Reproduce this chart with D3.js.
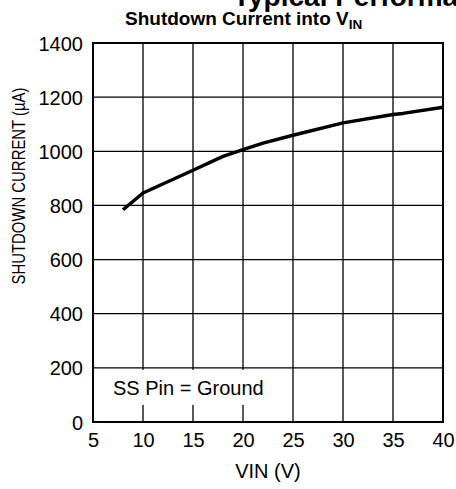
<!DOCTYPE html>
<html>
<head>
<meta charset="utf-8">
<script src="https://cdn.jsdelivr.net/npm/d3@7"></script>
<style>
  body { margin: 0; background: #fff; }
  svg { display: block; font-family: Arial, "Liberation Sans", sans-serif; }
</style>
</head>
<body>
<div id="chart"></div>
<script>
// data
var vin = [8, 10, 15, 18, 20, 22, 25, 30, 35, 36, 40];
var current = [784, 846, 930, 981, 1006, 1030, 1059, 1105, 1136, 1140, 1163];
var xTicks = [5, 10, 15, 20, 25, 30, 35, 40];
var yTicks = [0, 200, 400, 600, 800, 1000, 1200, 1400];

var svgWidth = 456;
var svgHeight = 489;

var margin = { top: 43, right: 13, bottom: 67, left: 93 };
var width = svgWidth - margin.left - margin.right;
var height = svgHeight - margin.top - margin.bottom;

var svg = d3.select("#chart")
  .append("svg")
  .attr("width", svgWidth)
  .attr("height", svgHeight);

// page heading, cut off at the top
svg.append("text")
  .attr("x", 233)
  .attr("y", 6)
  .attr("font-size", 28)
  .attr("font-weight", "bold")
  .text("Typical Performance Characteristics");

// chart title with subscript
var title = svg.append("text")
  .attr("x", 125)
  .attr("y", 25)
  .attr("font-size", 19)
  .attr("font-weight", "bold")
  .text("Shutdown Current into V");
title.append("tspan")
  .attr("dy", 4)
  .attr("font-size", 13.5)
  .text("IN");

var chartGroup = svg.append("g")
  .attr("transform", `translate(${margin.left}, ${margin.top})`);

var xScale = d3.scaleLinear().domain([5, 40]).range([0, width]);
var yScale = d3.scaleLinear().domain([0, 1400]).range([height, 0]);

// grid
chartGroup.append("g")
  .selectAll("line.vx")
  .data(xTicks.slice(1, -1))
  .enter()
  .append("line")
  .attr("x1", d => xScale(d))
  .attr("x2", d => xScale(d))
  .attr("y1", 0)
  .attr("y2", height)
  .attr("stroke", "#000")
  .attr("stroke-width", 1.3);

chartGroup.append("g")
  .selectAll("line.hy")
  .data(yTicks.slice(1, -1))
  .enter()
  .append("line")
  .attr("x1", 0)
  .attr("x2", width)
  .attr("y1", d => yScale(d))
  .attr("y2", d => yScale(d))
  .attr("stroke", "#000")
  .attr("stroke-width", 1.3);

// note box covers the grid
chartGroup.append("rect")
  .attr("x", 2)
  .attr("y", yScale(200) + 2)
  .attr("width", xScale(25) - 5)
  .attr("height", 35)
  .attr("fill", "#fff");

chartGroup.append("text")
  .attr("x", 20)
  .attr("y", yScale(200) + 27)
  .attr("font-size", 20)
  .text("SS Pin = Ground");

// frame
chartGroup.append("rect")
  .attr("x", 0)
  .attr("y", 0)
  .attr("width", width)
  .attr("height", height)
  .attr("fill", "none")
  .attr("stroke", "#000")
  .attr("stroke-width", 2);

// axes
var bottomAxis = d3.axisBottom(xScale).tickValues(xTicks).tickSize(0).tickPadding(11)
  .tickFormat(d3.format("d"));
var leftAxis = d3.axisLeft(yScale).tickValues(yTicks).tickSize(0).tickPadding(10)
  .tickFormat(d3.format("d"));

var xAxis = chartGroup.append("g")
  .attr("transform", `translate(0, ${height})`)
  .call(bottomAxis);
var yAxis = chartGroup.append("g").call(leftAxis);

[xAxis, yAxis].forEach(function(a) {
  a.select(".domain").remove();
  a.attr("font-size", 20).attr("font-family", "Arial, 'Liberation Sans', sans-serif");
  a.selectAll("text").attr("fill", "#000");
});
yAxis.selectAll("text").attr("dy", "0.35em");

// curve
var line = d3.line()
  .x((d, i) => xScale(vin[i]))
  .y(d => yScale(d));

chartGroup.append("path")
  .datum(current)
  .attr("d", line)
  .attr("fill", "none")
  .attr("stroke", "#000")
  .attr("stroke-width", 3.5)
  .attr("stroke-linejoin", "round");

// axis labels
svg.append("text")
  .attr("x", margin.left + width / 2)
  .attr("y", 478)
  .attr("text-anchor", "middle")
  .attr("font-size", 20)
  .text("VIN (V)");

svg.append("text")
  .attr("transform", "translate(25, 186) rotate(-90)")
  .attr("text-anchor", "middle")
  .attr("font-size", 18)
  .attr("textLength", 197)
  .attr("lengthAdjust", "spacingAndGlyphs")
  .text("SHUTDOWN CURRENT (µA)");
</script>
</body>
</html>
